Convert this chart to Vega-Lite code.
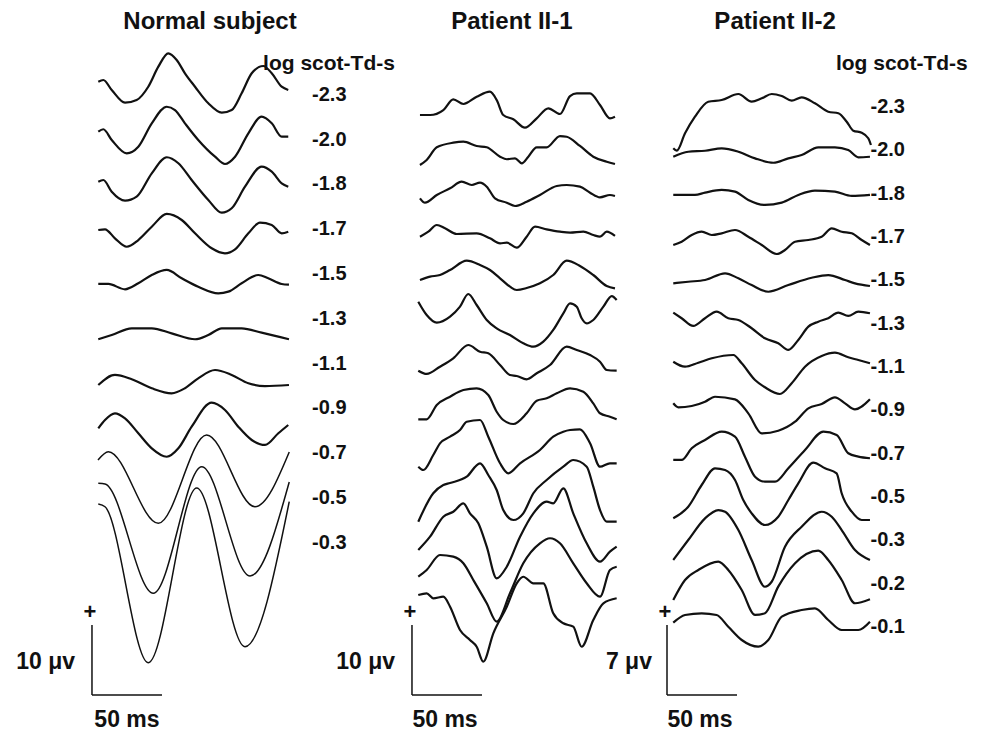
{
"$schema":"https://vega.github.io/schema/vega-lite/v6.json",
"padding":0,"spacing":0,"bounds":"flush","background":"white",
"config":{"view":{"stroke":null},"text":{"font":"Liberation Sans","fontWeight":"bold","fill":"#111"}},
"datasets":{
"normal":[
{"k":0,"t":0.2,"v":2.19},{"k":0,"t":3.8,"v":2.43},{"k":0,"t":9.8,"v":1.0},{"k":0,"t":19.3,"v":-0.81},{"k":0,"t":27.6,"v":-0.43},{"k":0,"t":35.9,"v":1.47},{"k":0,"t":43.1,"v":4.33},{"k":0,"t":50.2,"v":6.24},{"k":0,"t":56.2,"v":5.29},{"k":0,"t":62.1,"v":3.39},{"k":0,"t":69.3,"v":1.47},{"k":0,"t":78.8,"v":-0.9},{"k":0,"t":88.4,"v":-2.24},{"k":0,"t":95.5,"v":-1.86},{"k":0,"t":102.6,"v":0.53},{"k":0,"t":109.8,"v":3.39},{"k":0,"t":118.1,"v":4.43},{"k":0,"t":124.1,"v":3.39},{"k":0,"t":131.2,"v":1.47},{"k":0,"t":135.9,"v":1.0},
{"k":1,"t":0.2,"v":1.44},{"k":1,"t":3.8,"v":1.79},{"k":1,"t":9.8,"v":0.26},{"k":1,"t":20.5,"v":-1.64},{"k":1,"t":28.8,"v":-0.7},{"k":1,"t":38.4,"v":2.64},{"k":1,"t":49.1,"v":5.01},{"k":1,"t":55.0,"v":4.54},{"k":1,"t":62.1,"v":2.64},{"k":1,"t":71.6,"v":0.26},{"k":1,"t":83.6,"v":-2.13},{"k":1,"t":90.7,"v":-3.17},{"k":1,"t":97.9,"v":-2.13},{"k":1,"t":107.4,"v":1.21},{"k":1,"t":116.9,"v":3.59},{"k":1,"t":124.1,"v":2.64},{"k":1,"t":131.2,"v":0.73},{"k":1,"t":135.9,"v":0.73},
{"k":2,"t":0.2,"v":0.7},{"k":2,"t":3.8,"v":0.94},{"k":2,"t":9.8,"v":-0.73},{"k":2,"t":19.3,"v":-2.01},{"k":2,"t":27.6,"v":-1.44},{"k":2,"t":38.4,"v":1.9},{"k":2,"t":49.1,"v":4.19},{"k":2,"t":57.4,"v":3.33},{"k":2,"t":66.9,"v":0.94},{"k":2,"t":78.8,"v":-1.91},{"k":2,"t":88.4,"v":-3.73},{"k":2,"t":95.5,"v":-3.1},{"k":2,"t":105.0,"v":-0.01},{"k":2,"t":116.9,"v":2.84},{"k":2,"t":124.1,"v":2.13},{"k":2,"t":131.2,"v":0.47},{"k":2,"t":135.9,"v":-0.01},
{"k":3,"t":0.2,"v":0.2},{"k":3,"t":5.0,"v":0.3},{"k":3,"t":12.1,"v":-0.99},{"k":3,"t":20.5,"v":-2.19},{"k":3,"t":28.8,"v":-1.23},{"k":3,"t":38.4,"v":0.67},{"k":3,"t":49.1,"v":2.49},{"k":3,"t":59.8,"v":1.63},{"k":3,"t":69.3,"v":-0.27},{"k":3,"t":81.2,"v":-2.41},{"k":3,"t":90.7,"v":-3.13},{"k":3,"t":97.9,"v":-2.56},{"k":3,"t":107.4,"v":-0.27},{"k":3,"t":115.7,"v":1.24},{"k":3,"t":124.1,"v":0.91},{"k":3,"t":131.2,"v":-0.27},{"k":3,"t":135.9,"v":-0.04},
{"k":4,"t":0.2,"v":-1.11},{"k":4,"t":7.4,"v":-1.11},{"k":4,"t":19.3,"v":-1.87},{"k":4,"t":28.8,"v":-1.01},{"k":4,"t":38.4,"v":0.17},{"k":4,"t":49.1,"v":0.89},{"k":4,"t":59.8,"v":-0.3},{"k":4,"t":71.6,"v":-1.5},{"k":4,"t":85.9,"v":-2.44},{"k":4,"t":93.1,"v":-2.21},{"k":4,"t":102.6,"v":-1.01},{"k":4,"t":114.5,"v":0.17},{"k":4,"t":121.6,"v":-0.3},{"k":4,"t":131.2,"v":-1.11},{"k":4,"t":136.4,"v":-1.21},
{"k":5,"t":0.2,"v":-2.61},{"k":5,"t":9.8,"v":-2.0},{"k":5,"t":24.1,"v":-1.04},{"k":5,"t":38.4,"v":-1.04},{"k":5,"t":52.6,"v":-1.76},{"k":5,"t":69.3,"v":-2.61},{"k":5,"t":78.8,"v":-2.0},{"k":5,"t":88.4,"v":-1.04},{"k":5,"t":102.6,"v":-1.04},{"k":5,"t":116.9,"v":-1.67},{"k":5,"t":136.4,"v":-2.61},
{"k":6,"t":0.2,"v":-2.74},{"k":6,"t":12.1,"v":-1.31},{"k":6,"t":24.1,"v":-1.93},{"k":6,"t":38.4,"v":-3.21},{"k":6,"t":52.6,"v":-3.93},{"k":6,"t":62.1,"v":-3.21},{"k":6,"t":71.6,"v":-1.79},{"k":6,"t":83.6,"v":-0.6},{"k":6,"t":95.5,"v":-1.31},{"k":6,"t":107.4,"v":-2.5},{"k":6,"t":119.3,"v":-2.89},{"k":6,"t":136.4,"v":-2.74},
{"k":7,"t":0.2,"v":-2.53},{"k":7,"t":5.0,"v":-1.34},{"k":7,"t":12.1,"v":-0.39},{"k":7,"t":19.3,"v":-1.1},{"k":7,"t":28.8,"v":-3.24},{"k":7,"t":38.4,"v":-5.39},{"k":7,"t":49.1,"v":-6.59},{"k":7,"t":57.4,"v":-5.39},{"k":7,"t":66.9,"v":-2.3},{"k":7,"t":81.2,"v":1.13},{"k":7,"t":90.7,"v":0.09},{"k":7,"t":100.2,"v":-2.3},{"k":7,"t":109.8,"v":-4.2},{"k":7,"t":119.3,"v":-4.91},{"k":7,"t":128.8,"v":-3.24},{"k":7,"t":135.9,"v":-2.06},
{"k":8,"t":0,"v":-0.66},{"k":8,"t":7.4,"v":0.53},{"k":8,"t":43.1,"v":-9.7},{"k":8,"t":77.6,"v":2.91},{"k":8,"t":112.1,"v":-7.33},{"k":8,"t":136.6,"v":0.49},
{"k":9,"t":0.2,"v":2.41},{"k":9,"t":5.0,"v":2.31},{"k":9,"t":39.5,"v":-13.3},{"k":9,"t":74.1,"v":4.79},{"k":9,"t":108.6,"v":-10.83},{"k":9,"t":136.6,"v":2.6},
{"k":10,"t":0.2,"v":5.86},{"k":10,"t":5.0,"v":5.47},{"k":10,"t":35.9,"v":-16.81},{"k":10,"t":70.5,"v":8.14},{"k":10,"t":105.0,"v":-14.53},{"k":10,"t":136.6,"v":6.19}
],
"p1":[
{"k":0,"t":1.4,"v":0},{"k":0,"t":8.6,"v":0},{"k":0,"t":18.1,"v":0.71},{"k":0,"t":25.2,"v":2.24},{"k":0,"t":32.4,"v":1.57},{"k":0,"t":41.9,"v":2.61},{"k":0,"t":51.4,"v":3.33},{"k":0,"t":56.2,"v":2.14},{"k":0,"t":60.9,"v":0},{"k":0,"t":68.1,"v":-0.61},{"k":0,"t":76.4,"v":-1.81},{"k":0,"t":84.8,"v":-0.47},{"k":0,"t":93.1,"v":0.96},{"k":0,"t":101.4,"v":0.14},{"k":0,"t":108.6,"v":2.71},{"k":0,"t":113.4,"v":3.1},{"k":0,"t":122.9,"v":3.1},{"k":0,"t":130,"v":1.43},{"k":0,"t":137.1,"v":-0.47},{"k":0,"t":140.7,"v":-0.24},
{"k":1,"t":1.4,"v":-1.43},{"k":1,"t":6.2,"v":-0.71},{"k":1,"t":13.4,"v":1.1},{"k":1,"t":25.2,"v":1.76},{"k":1,"t":32.4,"v":1.9},{"k":1,"t":41.9,"v":1.29},{"k":1,"t":49.1,"v":1.1},{"k":1,"t":58.6,"v":-0.24},{"k":1,"t":63.4,"v":-0.61},{"k":1,"t":69.3,"v":-0.47},{"k":1,"t":74.1,"v":-1.19},{"k":1,"t":78.8,"v":-0.24},{"k":1,"t":84.8,"v":1.1},{"k":1,"t":91.9,"v":1.1},{"k":1,"t":101.4,"v":2.71},{"k":1,"t":106.2,"v":2.61},{"k":1,"t":115.7,"v":1.29},{"k":1,"t":125.2,"v":-0.24},{"k":1,"t":134.8,"v":-0.96},{"k":1,"t":140.7,"v":-1.29},
{"k":2,"t":1.4,"v":-0.47},{"k":2,"t":5,"v":-1.1},{"k":2,"t":13.4,"v":0},{"k":2,"t":22.9,"v":0.96},{"k":2,"t":31.2,"v":1.9},{"k":2,"t":38.4,"v":1.43},{"k":2,"t":44.3,"v":1.76},{"k":2,"t":49.1,"v":1.19},{"k":2,"t":55,"v":-0.47},{"k":2,"t":63.4,"v":-1.1},{"k":2,"t":69.3,"v":-1.57},{"k":2,"t":77.6,"v":-0.96},{"k":2,"t":87.1,"v":0},{"k":2,"t":99.1,"v":1.29},{"k":2,"t":106.2,"v":1.43},{"k":2,"t":115.7,"v":1.19},{"k":2,"t":122.9,"v":0.33},{"k":2,"t":130,"v":-0.33},{"k":2,"t":137.1,"v":0},{"k":2,"t":140.7,"v":-0.14},
{"k":3,"t":1.4,"v":-0.24},{"k":3,"t":7.4,"v":0.47},{"k":3,"t":13.4,"v":1.43},{"k":3,"t":19.3,"v":0.96},{"k":3,"t":27.6,"v":0.14},{"k":3,"t":41.9,"v":0.24},{"k":3,"t":51.4,"v":-0.47},{"k":3,"t":58.6,"v":-1.19},{"k":3,"t":63.4,"v":-1.1},{"k":3,"t":70.5,"v":-1.81},{"k":3,"t":77.6,"v":-0.24},{"k":3,"t":83.6,"v":1.19},{"k":3,"t":91.9,"v":0.81},{"k":3,"t":101.4,"v":0.47},{"k":3,"t":108.6,"v":0.33},{"k":3,"t":118.1,"v":0.47},{"k":3,"t":125.2,"v":0},{"k":3,"t":130,"v":-0.24},{"k":3,"t":134.8,"v":0.47},{"k":3,"t":140.7,"v":-0.14},
{"k":4,"t":1.4,"v":-0.71},{"k":4,"t":8.6,"v":-0.24},{"k":4,"t":15.7,"v":0},{"k":4,"t":22.9,"v":0.71},{"k":4,"t":34.8,"v":2.04},{"k":4,"t":44.3,"v":1.43},{"k":4,"t":51.4,"v":0.71},{"k":4,"t":58.6,"v":-0.47},{"k":4,"t":65.7,"v":-1.67},{"k":4,"t":70.5,"v":-2.14},{"k":4,"t":77.6,"v":-1.86},{"k":4,"t":87.1,"v":-1.19},{"k":4,"t":96.6,"v":0},{"k":4,"t":106.2,"v":2.04},{"k":4,"t":115.7,"v":1.29},{"k":4,"t":125.2,"v":0},{"k":4,"t":134.8,"v":-1.57},{"k":4,"t":140.7,"v":-1.9},
{"k":5,"t":0.2,"v":1.9},{"k":5,"t":6.2,"v":0},{"k":5,"t":13.4,"v":-1.1},{"k":5,"t":22.9,"v":-0.24},{"k":5,"t":30,"v":1.19},{"k":5,"t":35.9,"v":3.0},{"k":5,"t":41.9,"v":1.43},{"k":5,"t":49.1,"v":-0.71},{"k":5,"t":56.2,"v":-1.9},{"k":5,"t":65.7,"v":-2.86},{"k":5,"t":75.2,"v":-4.04},{"k":5,"t":82.4,"v":-4.53},{"k":5,"t":89.5,"v":-3.81},{"k":5,"t":96.6,"v":-2.14},{"k":5,"t":103.8,"v":0.24},{"k":5,"t":108.6,"v":1.67},{"k":5,"t":113.4,"v":1.19},{"k":5,"t":116.9,"v":-0.47},{"k":5,"t":120.5,"v":-1.19},{"k":5,"t":125.2,"v":-0.71},{"k":5,"t":132.4,"v":1.19},{"k":5,"t":138.4,"v":2.71},{"k":5,"t":141.9,"v":2.14},
{"k":6,"t":0.2,"v":-2.24},{"k":6,"t":6.2,"v":-2.71},{"k":6,"t":15.7,"v":-1.67},{"k":6,"t":25.2,"v":-0.47},{"k":6,"t":35.9,"v":1.43},{"k":6,"t":44.3,"v":0.47},{"k":6,"t":50.2,"v":0.24},{"k":6,"t":58.6,"v":-1.43},{"k":6,"t":65.7,"v":-2.86},{"k":6,"t":70.5,"v":-3.0},{"k":6,"t":77.6,"v":-3.47},{"k":6,"t":84.8,"v":-2.61},{"k":6,"t":94.3,"v":-1.43},{"k":6,"t":106.2,"v":1.19},{"k":6,"t":113.4,"v":0.71},{"k":6,"t":122.9,"v":0},{"k":6,"t":130,"v":-0.96},{"k":6,"t":134.8,"v":-2.14},{"k":6,"t":141.9,"v":-2.24},
{"k":7,"t":0.2,"v":-3.47},{"k":7,"t":6.2,"v":-3.47},{"k":7,"t":13.4,"v":-1.43},{"k":7,"t":22.9,"v":-0.24},{"k":7,"t":32.4,"v":0.71},{"k":7,"t":41.9,"v":0.96},{"k":7,"t":50.2,"v":0},{"k":7,"t":56.2,"v":-2.39},{"k":7,"t":60.9,"v":-3.57},{"k":7,"t":68.1,"v":-4.14},{"k":7,"t":77.6,"v":-2.61},{"k":7,"t":84.8,"v":-0.81},{"k":7,"t":91.9,"v":-0.47},{"k":7,"t":99.1,"v":0.24},{"k":7,"t":108.6,"v":0.96},{"k":7,"t":118.1,"v":0.47},{"k":7,"t":125.2,"v":-1.19},{"k":7,"t":130,"v":-2.61},{"k":7,"t":137.1,"v":-3.1},{"k":7,"t":141.9,"v":-3.47},
{"k":8,"t":0.2,"v":-4.53},{"k":8,"t":3.8,"v":-5.0},{"k":8,"t":10.9,"v":-2.86},{"k":8,"t":15.7,"v":-1.19},{"k":8,"t":22.9,"v":-0.24},{"k":8,"t":30,"v":0.71},{"k":8,"t":34.8,"v":1.9},{"k":8,"t":44.3,"v":2.14},{"k":8,"t":50.2,"v":-0.24},{"k":8,"t":58.6,"v":-4.04},{"k":8,"t":64.5,"v":-5.47},{"k":8,"t":72.9,"v":-4.04},{"k":8,"t":87.1,"v":-2.14},{"k":8,"t":96.6,"v":-0.24},{"k":8,"t":103.8,"v":0.47},{"k":8,"t":108.6,"v":0.71},{"k":8,"t":115.7,"v":0.81},{"k":8,"t":122.9,"v":-1.19},{"k":8,"t":130,"v":-4.53},{"k":8,"t":137.1,"v":-4.04},{"k":8,"t":141.9,"v":-4.04},
{"k":9,"t":0.2,"v":-6.67},{"k":9,"t":10.9,"v":-2.61},{"k":9,"t":18.1,"v":-1.43},{"k":9,"t":22.9,"v":-1.14},{"k":9,"t":34.8,"v":-0.24},{"k":9,"t":44.3,"v":1.67},{"k":9,"t":50.2,"v":0},{"k":9,"t":56.2,"v":-2.14},{"k":9,"t":60.9,"v":-5.0},{"k":9,"t":68.1,"v":-6.43},{"k":9,"t":75.2,"v":-5.47},{"k":9,"t":82.4,"v":-2.61},{"k":9,"t":91.9,"v":-0.71},{"k":9,"t":103.8,"v":1.19},{"k":9,"t":110.9,"v":2.14},{"k":9,"t":120.5,"v":1.19},{"k":9,"t":125.2,"v":-1.67},{"k":9,"t":130,"v":-5.0},{"k":9,"t":134.8,"v":-6.67},{"k":9,"t":141.9,"v":-6.67},
{"k":10,"t":0.2,"v":-5.0},{"k":10,"t":8.6,"v":-3.1},{"k":10,"t":18.1,"v":-0.24},{"k":10,"t":25.2,"v":0.47},{"k":10,"t":32.4,"v":1.67},{"k":10,"t":37.1,"v":0.24},{"k":10,"t":43.1,"v":-1.19},{"k":10,"t":49.1,"v":-4.53},{"k":10,"t":56.2,"v":-9.04},{"k":10,"t":63.4,"v":-7.39},{"k":10,"t":72.9,"v":-3.1},{"k":10,"t":82.4,"v":0.24},{"k":10,"t":91.9,"v":1.9},{"k":10,"t":96.6,"v":1.67},{"k":10,"t":103.8,"v":3.81},{"k":10,"t":110.9,"v":0.24},{"k":10,"t":120.5,"v":-4.04},{"k":10,"t":130,"v":-6.67},{"k":10,"t":137.1,"v":-5.24},{"k":10,"t":141.9,"v":-4.53},
{"k":11,"t":0.2,"v":-3.1},{"k":11,"t":6.2,"v":-2.14},{"k":11,"t":15.7,"v":0},{"k":11,"t":25.2,"v":-0.24},{"k":11,"t":32.4,"v":-1.19},{"k":11,"t":39.5,"v":-3.57},{"k":11,"t":49.1,"v":-6.9},{"k":11,"t":56.2,"v":-9.53},{"k":11,"t":65.7,"v":-5.47},{"k":11,"t":75.2,"v":-1.19},{"k":11,"t":87.1,"v":1.67},{"k":11,"t":94.3,"v":2.39},{"k":11,"t":101.4,"v":1.67},{"k":11,"t":110.9,"v":-1.19},{"k":11,"t":120.5,"v":-4.04},{"k":11,"t":130,"v":-5.96},{"k":11,"t":137.1,"v":-2.14},{"k":11,"t":141.9,"v":-1.67},
{"k":12,"t":0.2,"v":0},{"k":12,"t":6.2,"v":0.24},{"k":12,"t":10.9,"v":-0.47},{"k":12,"t":18.1,"v":-0.24},{"k":12,"t":22.9,"v":-1.67},{"k":12,"t":30,"v":-5.0},{"k":12,"t":37.1,"v":-6.43},{"k":12,"t":41.9,"v":-7.39},{"k":12,"t":46.6,"v":-9.53},{"k":12,"t":53.8,"v":-5.47},{"k":12,"t":63.4,"v":-1.67},{"k":12,"t":70.5,"v":1.67},{"k":12,"t":75.2,"v":2.61},{"k":12,"t":82.4,"v":1.67},{"k":12,"t":89.5,"v":1.67},{"k":12,"t":96.6,"v":-2.61},{"k":12,"t":103.8,"v":-4.04},{"k":12,"t":110.9,"v":-4.53},{"k":12,"t":116.9,"v":-7.39},{"k":12,"t":125.2,"v":-3.57},{"k":12,"t":132.4,"v":-1.19},{"k":12,"t":141.9,"v":-0.47}
],
"p2":[
{"k":0,"t":0.9,"v":-4.13},{"k":0,"t":3.4,"v":-4.37},{"k":0,"t":9.3,"v":-2.63},{"k":0,"t":16.4,"v":-0.97},{"k":0,"t":25.9,"v":0.53},{"k":0,"t":35.5,"v":0.7},{"k":0,"t":47.4,"v":1.3},{"k":0,"t":56.9,"v":0.53},{"k":0,"t":64.1,"v":0.87},{"k":0,"t":71.2,"v":1.3},{"k":0,"t":78.4,"v":1.1},{"k":0,"t":85.5,"v":0.63},{"k":0,"t":92.6,"v":0.97},{"k":0,"t":102.1,"v":0.37},{"k":0,"t":111.6,"v":-0.47},{"k":0,"t":118.8,"v":-0.63},{"k":0,"t":124.8,"v":-1.47},{"k":0,"t":129.5,"v":-2.37},{"k":0,"t":135.5,"v":-2.57},{"k":0,"t":140.2,"v":-3.13},{"k":0,"t":142.1,"v":-3.8},
{"k":1,"t":0.9,"v":-0.64},{"k":1,"t":11.6,"v":-0.14},{"k":1,"t":23.6,"v":-0.04},{"k":1,"t":35.5,"v":0.2},{"k":1,"t":47.4,"v":-0.14},{"k":1,"t":59.3,"v":-0.8},{"k":1,"t":72.4,"v":-1.24},{"k":1,"t":83.1,"v":-0.8},{"k":1,"t":92.6,"v":-0.47},{"k":1,"t":104.5,"v":0.3},{"k":1,"t":116.4,"v":0.3},{"k":1,"t":125.9,"v":0.03},{"k":1,"t":133.1,"v":-0.7},{"k":1,"t":141.4,"v":-0.64},
{"k":2,"t":0.9,"v":-0.13},{"k":2,"t":16.4,"v":-0.13},{"k":2,"t":23.6,"v":0.1},{"k":2,"t":35.5,"v":0.37},{"k":2,"t":45.0,"v":0.2},{"k":2,"t":54.5,"v":-0.63},{"k":2,"t":66.4,"v":-1.13},{"k":2,"t":78.4,"v":-0.9},{"k":2,"t":90.2,"v":-0.13},{"k":2,"t":102.1,"v":0.3},{"k":2,"t":116.4,"v":0.2},{"k":2,"t":128.4,"v":-0.23},{"k":2,"t":141.4,"v":-0.13},
{"k":3,"t":0.9,"v":-0.8},{"k":3,"t":6.9,"v":-0.47},{"k":3,"t":14.1,"v":0.2},{"k":3,"t":21.2,"v":0.53},{"k":3,"t":28.4,"v":0.2},{"k":3,"t":35.5,"v":0.37},{"k":3,"t":45.0,"v":0.7},{"k":3,"t":54.5,"v":0.03},{"k":3,"t":64.1,"v":-0.8},{"k":3,"t":74.8,"v":-1.7},{"k":3,"t":80.7,"v":-1.3},{"k":3,"t":87.9,"v":-0.47},{"k":3,"t":97.4,"v":-0.3},{"k":3,"t":106.9,"v":0.03},{"k":3,"t":114.1,"v":0.87},{"k":3,"t":121.2,"v":0.53},{"k":3,"t":128.4,"v":0.37},{"k":3,"t":135.5,"v":-0.3},{"k":3,"t":141.4,"v":-0.8},
{"k":4,"t":0.9,"v":-0.3},{"k":4,"t":11.6,"v":-0.14},{"k":4,"t":23.6,"v":0.03},{"k":4,"t":37.9,"v":0.7},{"k":4,"t":47.4,"v":0.2},{"k":4,"t":56.9,"v":-0.47},{"k":4,"t":68.8,"v":-1.14},{"k":4,"t":83.1,"v":-0.47},{"k":4,"t":99.8,"v":0.26},{"k":4,"t":111.6,"v":0.53},{"k":4,"t":123.6,"v":0.03},{"k":4,"t":130.7,"v":-0.3},{"k":4,"t":141.4,"v":-0.57},
{"k":5,"t":0.9,"v":1.1},{"k":5,"t":6.9,"v":0.54},{"k":5,"t":15.2,"v":-0.23},{"k":5,"t":23.6,"v":0.54},{"k":5,"t":31.9,"v":1.2},{"k":5,"t":40.2,"v":0.54},{"k":5,"t":47.4,"v":0.37},{"k":5,"t":56.9,"v":-0.46},{"k":5,"t":66.4,"v":-1.46},{"k":5,"t":75.9,"v":-1.96},{"k":5,"t":83.1,"v":-2.63},{"k":5,"t":90.2,"v":-1.63},{"k":5,"t":97.4,"v":-0.3},{"k":5,"t":104.5,"v":0.2},{"k":5,"t":111.6,"v":0.54},{"k":5,"t":118.8,"v":1.1},{"k":5,"t":125.9,"v":0.77},{"k":5,"t":133.1,"v":1.2},{"k":5,"t":141.4,"v":1.04},
{"k":6,"t":0.9,"v":0.53},{"k":6,"t":9.3,"v":0.03},{"k":6,"t":18.8,"v":0.43},{"k":6,"t":28.4,"v":0.87},{"k":6,"t":43.8,"v":1.2},{"k":6,"t":49.8,"v":0.37},{"k":6,"t":59.3,"v":-1.3},{"k":6,"t":66.4,"v":-2.03},{"k":6,"t":77.1,"v":-2.7},{"k":6,"t":85.5,"v":-1.63},{"k":6,"t":95.0,"v":0.03},{"k":6,"t":106.9,"v":1.1},{"k":6,"t":116.4,"v":1.43},{"k":6,"t":125.9,"v":0.97},{"k":6,"t":133.1,"v":0.7},{"k":6,"t":141.4,"v":0.37},
{"k":7,"t":0.9,"v":0.7},{"k":7,"t":4.5,"v":0.3},{"k":7,"t":14.1,"v":0.43},{"k":7,"t":23.6,"v":0.86},{"k":7,"t":30.7,"v":1.36},{"k":7,"t":45.0,"v":1.1},{"k":7,"t":54.5,"v":-0.3},{"k":7,"t":64.1,"v":-2.3},{"k":7,"t":75.9,"v":-2.04},{"k":7,"t":87.9,"v":-1.14},{"k":7,"t":97.4,"v":0.2},{"k":7,"t":106.9,"v":0.63},{"k":7,"t":116.4,"v":1.3},{"k":7,"t":123.6,"v":0.7},{"k":7,"t":130.7,"v":0.1},{"k":7,"t":141.4,"v":1.1},
{"k":8,"t":0.9,"v":-0.63},{"k":8,"t":6.9,"v":-0.63},{"k":8,"t":14.1,"v":0.54},{"k":8,"t":23.6,"v":1.37},{"k":8,"t":35.5,"v":2.2},{"k":8,"t":45.0,"v":1.7},{"k":8,"t":52.1,"v":-0.3},{"k":8,"t":59.3,"v":-2.3},{"k":8,"t":66.4,"v":-2.8},{"k":8,"t":73.6,"v":-2.8},{"k":8,"t":83.1,"v":-1.46},{"k":8,"t":95.0,"v":0.37},{"k":8,"t":108.1,"v":2.2},{"k":8,"t":117.6,"v":1.87},{"k":8,"t":125.9,"v":0.04},{"k":8,"t":133.1,"v":-0.3},{"k":8,"t":141.4,"v":-0.46},
{"k":9,"t":0.9,"v":-2.13},{"k":9,"t":11.6,"v":-0.97},{"k":9,"t":21.2,"v":1.2},{"k":9,"t":30.7,"v":2.87},{"k":9,"t":37.9,"v":2.7},{"k":9,"t":45.0,"v":1.7},{"k":9,"t":50.9,"v":-0.3},{"k":9,"t":56.9,"v":-1.63},{"k":9,"t":66.4,"v":-2.8},{"k":9,"t":75.9,"v":-1.97},{"k":9,"t":83.1,"v":-0.3},{"k":9,"t":90.2,"v":1.37},{"k":9,"t":100.9,"v":3.43},{"k":9,"t":109.3,"v":2.87},{"k":9,"t":117.6,"v":2.37},{"k":9,"t":121.2,"v":0.37},{"k":9,"t":128.4,"v":-1.47},{"k":9,"t":135.5,"v":-2.3},{"k":9,"t":141.4,"v":-2.3},
{"k":10,"t":0.9,"v":-1.97},{"k":10,"t":11.6,"v":0.03},{"k":10,"t":23.6,"v":2.2},{"k":10,"t":33.1,"v":3.03},{"k":10,"t":37.9,"v":2.86},{"k":10,"t":47.4,"v":1.03},{"k":10,"t":56.9,"v":-1.97},{"k":10,"t":66.4,"v":-4.64},{"k":10,"t":71.2,"v":-4.14},{"k":10,"t":80.7,"v":-0.64},{"k":10,"t":92.6,"v":1.36},{"k":10,"t":106.9,"v":2.86},{"k":10,"t":114.1,"v":2.36},{"k":10,"t":121.2,"v":1.03},{"k":10,"t":130.7,"v":-0.97},{"k":10,"t":141.4,"v":-1.97},
{"k":11,"t":0.9,"v":-1.63},{"k":11,"t":9.3,"v":0.37},{"k":11,"t":18.8,"v":1.37},{"k":11,"t":33.1,"v":2.2},{"k":11,"t":40.2,"v":1.37},{"k":11,"t":49.8,"v":-0.63},{"k":11,"t":59.3,"v":-3.13},{"k":11,"t":66.4,"v":-2.96},{"k":11,"t":75.9,"v":-0.3},{"k":11,"t":87.9,"v":2.04},{"k":11,"t":104.5,"v":3.3},{"k":11,"t":111.6,"v":2.37},{"k":11,"t":121.2,"v":0.37},{"k":11,"t":130.7,"v":-1.96},{"k":11,"t":141.4,"v":-1.56},
{"k":12,"t":0.9,"v":0.43},{"k":12,"t":9.3,"v":1.2},{"k":12,"t":21.2,"v":1.37},{"k":12,"t":31.9,"v":1.2},{"k":12,"t":40.2,"v":0.03},{"k":12,"t":49.8,"v":-1.3},{"k":12,"t":61.6,"v":-1.97},{"k":12,"t":68.8,"v":-1.3},{"k":12,"t":78.4,"v":1.03},{"k":12,"t":92.6,"v":1.7},{"k":12,"t":102.1,"v":1.87},{"k":12,"t":111.6,"v":0.7},{"k":12,"t":121.2,"v":-0.3},{"k":12,"t":133.1,"v":-0.3},{"k":12,"t":141.4,"v":0.53}
],
"levelsNormal":[{"k":0,"label":"-2.3"},{"k":1,"label":"-2.0"},{"k":2,"label":"-1.8"},{"k":3,"label":"-1.7"},{"k":4,"label":"-1.5"},{"k":5,"label":"-1.3"},{"k":6,"label":"-1.1"},{"k":7,"label":"-0.9"},{"k":8,"label":"-0.7"},{"k":9,"label":"-0.5"},{"k":10,"label":"-0.3"}],
"levelsP2":[{"k":0,"label":"-2.3"},{"k":1,"label":"-2.0"},{"k":2,"label":"-1.8"},{"k":3,"label":"-1.7"},{"k":4,"label":"-1.5"},{"k":5,"label":"-1.3"},{"k":6,"label":"-1.1"},{"k":7,"label":"-0.9"},{"k":8,"label":"-0.7"},{"k":9,"label":"-0.5"},{"k":10,"label":"-0.3"},{"k":11,"label":"-0.2"},{"k":12,"label":"-0.1"}]
},
"hconcat":[
{"width":330,"height":736,
"layer":[
{"data":{"name":"normal"},"transform":[{"filter":"datum.k < 8"},{"calculate":"datum.v - datum.k * 6.4","as":"y"}],
"mark":{"type":"line","interpolate":"monotone","color":"#111","strokeWidth":2.2},
"encoding":{"x":{"field":"t","type":"quantitative","axis":null,"scale":{"domain":[-70,165.714],"nice":false,"zero":false}},"y":{"field":"y","type":"quantitative","axis":null,"scale":{"domain":[-91.2857,13.8571],"nice":false,"zero":false}},"detail":{"field":"k"}}},
{"data":{"name":"normal"},"transform":[{"filter":"datum.k >= 8"},{"calculate":"datum.v - datum.k * 6.4","as":"y"}],
"mark":{"type":"line","interpolate":"monotone","color":"#111","strokeWidth":1.5},
"encoding":{"x":{"field":"t","type":"quantitative","axis":null},"y":{"field":"y","type":"quantitative","axis":null},"detail":{"field":"k"}}},
{"data":{"name":"levelsNormal"},"transform":[{"calculate":"-datum.k * 6.4 + 0.3","as":"y"}],
"mark":{"type":"text","align":"left","baseline":"middle","fontSize":20},
"encoding":{"x":{"datum":152.9,"type":"quantitative","axis":null},"y":{"field":"y","type":"quantitative","axis":null},"text":{"field":"label"}}},
{"data":{"values":[{"x0":-4.3,"x1":45.7,"y0":-85.43,"y1":-85.43},{"x0":-4.3,"x1":-4.3,"y0":-85.43,"y1":-75.43}]},
"mark":{"type":"rule","color":"#111","strokeWidth":1.5},
"encoding":{"x":{"field":"x0","type":"quantitative","axis":null},"x2":{"field":"x1"},"y":{"field":"y0","type":"quantitative","axis":null},"y2":{"field":"y1"}}},
{"data":{"values":[{"s":"+"}]},"mark":{"type":"text","align":"center","baseline":"middle","fontSize":22},
"encoding":{"x":{"datum":-5.7,"type":"quantitative","axis":null},"y":{"datum":-73.6,"type":"quantitative","axis":null},"text":{"field":"s"}}},
{"data":{"values":[{"s":"10 μv"}]},"mark":{"type":"text","align":"right","baseline":"middle","fontSize":23},
"encoding":{"x":{"datum":-16.4,"type":"quantitative","axis":null},"y":{"datum":-80.7,"type":"quantitative","axis":null},"text":{"field":"s"}}},
{"data":{"values":[{"s":"50 ms"}]},"mark":{"type":"text","align":"center","baseline":"middle","fontSize":23},
"encoding":{"x":{"datum":20.7,"type":"quantitative","axis":null},"y":{"datum":-89.0,"type":"quantitative","axis":null},"text":{"field":"s"}}},
{"data":{"values":[{"s":"Normal subject"}]},"mark":{"type":"text","align":"center","baseline":"middle","fontSize":24},
"encoding":{"x":{"datum":80.0,"type":"quantitative","axis":null},"y":{"datum":10.71,"type":"quantitative","axis":null},"text":{"field":"s"}}},
{"data":{"values":[{"s":"log scot-Td-s"}]},"mark":{"type":"text","align":"left","baseline":"middle","fontSize":21},
"encoding":{"x":{"datum":117.9,"type":"quantitative","axis":null},"y":{"datum":4.71,"type":"quantitative","axis":null},"text":{"field":"s"}}}
]},
{"width":310,"height":736,
"layer":[
{"data":{"name":"p1"},"transform":[{"calculate":"datum.v - datum.k * 5.7143","as":"y"}],
"mark":{"type":"line","interpolate":"monotone","color":"#111","strokeWidth":2.2},
"encoding":{"x":{"field":"t","type":"quantitative","axis":null,"scale":{"domain":[-62.857,158.571],"nice":false,"zero":false}},"y":{"field":"y","type":"quantitative","axis":null,"scale":{"domain":[-88.714,16.429],"nice":false,"zero":false}},"detail":{"field":"k"}}},
{"data":{"values":[{"x0":-4.3,"x1":45.7,"y0":-82.86,"y1":-82.86},{"x0":-4.3,"x1":-4.3,"y0":-82.86,"y1":-72.86}]},
"mark":{"type":"rule","color":"#111","strokeWidth":1.5},
"encoding":{"x":{"field":"x0","type":"quantitative","axis":null},"x2":{"field":"x1"},"y":{"field":"y0","type":"quantitative","axis":null},"y2":{"field":"y1"}}},
{"data":{"values":[{"s":"+"}]},"mark":{"type":"text","align":"center","baseline":"middle","fontSize":22},
"encoding":{"x":{"datum":-5.7,"type":"quantitative","axis":null},"y":{"datum":-71.0,"type":"quantitative","axis":null},"text":{"field":"s"}}},
{"data":{"values":[{"s":"10 μv"}]},"mark":{"type":"text","align":"right","baseline":"middle","fontSize":23},
"encoding":{"x":{"datum":-16.4,"type":"quantitative","axis":null},"y":{"datum":-78.14,"type":"quantitative","axis":null},"text":{"field":"s"}}},
{"data":{"values":[{"s":"50 ms"}]},"mark":{"type":"text","align":"center","baseline":"middle","fontSize":23},
"encoding":{"x":{"datum":19.3,"type":"quantitative","axis":null},"y":{"datum":-86.43,"type":"quantitative","axis":null},"text":{"field":"s"}}},
{"data":{"values":[{"s":"Patient II-1"}]},"mark":{"type":"text","align":"center","baseline":"middle","fontSize":24},
"encoding":{"x":{"datum":67.1,"type":"quantitative","axis":null},"y":{"datum":13.29,"type":"quantitative","axis":null},"text":{"field":"s"}}}
]},
{"width":345,"height":736,
"layer":[
{"data":{"name":"p2"},"transform":[{"calculate":"datum.v - datum.k * 4.3333","as":"y"}],
"mark":{"type":"line","interpolate":"monotone","color":"#111","strokeWidth":2.2},
"encoding":{"x":{"field":"t","type":"quantitative","axis":null,"scale":{"domain":[-22.857,223.571],"nice":false,"zero":false}},"y":{"field":"y","type":"quantitative","axis":null,"scale":{"domain":[-62.9,10.7],"nice":false,"zero":false}},"detail":{"field":"k"}}},
{"data":{"name":"levelsP2"},"transform":[{"calculate":"-datum.k * 4.3333","as":"y"}],
"mark":{"type":"text","align":"left","baseline":"middle","fontSize":20},
"encoding":{"x":{"datum":141.8,"type":"quantitative","axis":null},"y":{"field":"y","type":"quantitative","axis":null},"text":{"field":"label"}}},
{"data":{"values":[{"x0":-3.57,"x1":46.43,"y0":-58.8,"y1":-58.8},{"x0":-3.57,"x1":-3.57,"y0":-58.8,"y1":-51.8}]},
"mark":{"type":"rule","color":"#111","strokeWidth":1.5},
"encoding":{"x":{"field":"x0","type":"quantitative","axis":null},"x2":{"field":"x1"},"y":{"field":"y0","type":"quantitative","axis":null},"y2":{"field":"y1"}}},
{"data":{"values":[{"s":"+"}]},"mark":{"type":"text","align":"center","baseline":"middle","fontSize":22},
"encoding":{"x":{"datum":-5.0,"type":"quantitative","axis":null},"y":{"datum":-50.5,"type":"quantitative","axis":null},"text":{"field":"s"}}},
{"data":{"values":[{"s":"7 μv"}]},"mark":{"type":"text","align":"right","baseline":"middle","fontSize":23},
"encoding":{"x":{"datum":-14.3,"type":"quantitative","axis":null},"y":{"datum":-55.5,"type":"quantitative","axis":null},"text":{"field":"s"}}},
{"data":{"values":[{"s":"50 ms"}]},"mark":{"type":"text","align":"center","baseline":"middle","fontSize":23},
"encoding":{"x":{"datum":20.0,"type":"quantitative","axis":null},"y":{"datum":-61.3,"type":"quantitative","axis":null},"text":{"field":"s"}}},
{"data":{"values":[{"s":"Patient II-2"}]},"mark":{"type":"text","align":"center","baseline":"middle","fontSize":24},
"encoding":{"x":{"datum":73.6,"type":"quantitative","axis":null},"y":{"datum":8.5,"type":"quantitative","axis":null},"text":{"field":"s"}}},
{"data":{"values":[{"s":"log scot-Td-s"}]},"mark":{"type":"text","align":"left","baseline":"middle","fontSize":21},
"encoding":{"x":{"datum":117.1,"type":"quantitative","axis":null},"y":{"datum":4.3,"type":"quantitative","axis":null},"text":{"field":"s"}}}
]}
]
}
